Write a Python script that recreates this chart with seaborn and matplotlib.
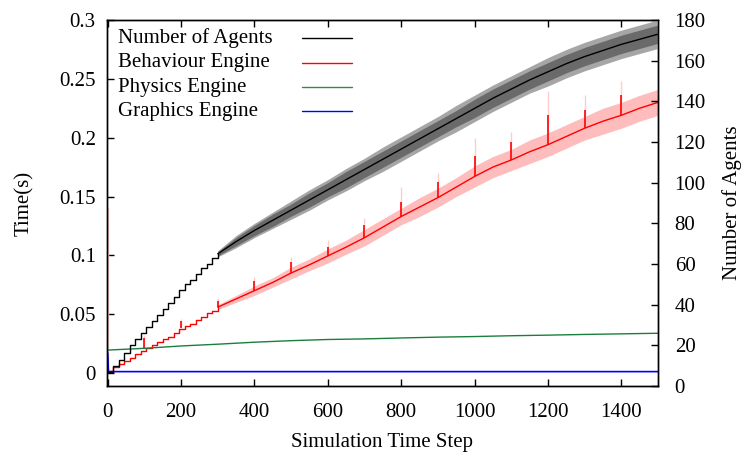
import numpy as np
import pandas as pd
import matplotlib
matplotlib.use("Agg")
import matplotlib.pyplot as plt
import seaborn as sns
from matplotlib.lines import Line2D

# early phase: agents are spawned in stairs (values read per stair)
stair_steps = [0, 15, 30, 45, 60, 75, 90, 105, 120, 135, 150, 165, 180, 195,
               210, 225, 240, 255, 270, 285, 300]
stair_agents = [7, 10, 13, 16, 20, 23, 26, 29, 32, 35, 38, 41, 44, 47,
                50, 52, 55, 58, 60, 63, 65]
stair_behaviour = [0.002, 0.005, 0.0075, 0.010, 0.013, 0.016, 0.019, 0.021, 0.024,
                   0.026, 0.029, 0.031, 0.034, 0.037, 0.040, 0.042, 0.045, 0.048,
                   0.051, 0.053, 0.056]

# later phase, mean and spread (read every 50 steps)
late_steps = [300, 350, 400, 450, 500, 550, 600, 650, 700, 750, 800, 850, 900,
              950, 1000, 1050, 1100, 1150, 1200, 1250, 1300, 1350, 1400, 1450, 1500]
late_agents = [65, 71, 76.5, 81.5, 86.5, 91.5, 96.5, 101.5, 106.5, 111.5, 116.5,
               121.5, 126.5, 131.5, 136.5, 141.5, 146, 150.5, 154.5, 158.5, 162,
               165, 168, 170.5, 173]
agents_inner = [1, 2, 2.5, 3, 3, 3.5, 3.5, 4, 4, 4, 4, 4, 4,
                4, 4.5, 4.5, 4.5, 4.5, 4.5, 4.5, 4.5, 4.5, 4.5, 4.5, 4.5]
agents_outer = [1.5, 3, 3.5, 4, 4.5, 5, 5, 5.5, 5.5, 6, 6, 6, 6,
                6.5, 6.5, 6.5, 6.5, 6.5, 7, 7, 7, 7, 7, 7, 7]
late_behaviour = [0.056, 0.063, 0.070, 0.077, 0.085, 0.092, 0.0995, 0.107, 0.115,
                  0.124, 0.133, 0.141, 0.149, 0.158, 0.167, 0.175, 0.181, 0.188,
                  0.194, 0.201, 0.208, 0.214, 0.219, 0.225, 0.230]
behaviour_spread = [0.002, 0.003, 0.004, 0.004, 0.005, 0.005, 0.006, 0.006, 0.007,
                    0.007, 0.007, 0.008, 0.008, 0.008, 0.009, 0.009, 0.009, 0.010,
                    0.010, 0.010, 0.010, 0.011, 0.011, 0.011, 0.011]

# behaviour engine spikes every 100 steps (peak of mean / peak of spread)
spike_steps = [100, 200, 300, 400, 500, 600, 700, 800, 900, 1000, 1100, 1200, 1300, 1400]
spike_peak = [0.030, 0.044, 0.061, 0.078, 0.094, 0.107, 0.126, 0.145, 0.162,
              0.184, 0.196, 0.219, 0.2235, 0.236]
spike_faint = [0.032, 0.046, 0.064, 0.082, 0.099, 0.113, 0.132, 0.158, 0.170,
               0.200, 0.205, 0.240, 0.236, 0.248]

physics_steps = [0, 100, 200, 300, 400, 500, 600, 700, 800, 900, 1000, 1100,
                 1200, 1300, 1400, 1500]
physics_time = [0.0195, 0.021, 0.023, 0.0245, 0.0262, 0.0275, 0.0285, 0.029,
                0.0298, 0.0305, 0.031, 0.0317, 0.0322, 0.0328, 0.0333, 0.0338]

graphics_steps = [0, 2, 100, 200, 300, 400, 500, 600, 700, 800, 900, 1000,
                  1100, 1200, 1300, 1400, 1500]
graphics_time = [0.017, 0.0012, 0.0012, 0.0012, 0.0012, 0.0012, 0.0012, 0.0012,
                 0.0012, 0.0012, 0.0012, 0.0012, 0.0012, 0.0012, 0.0012, 0.0012, 0.0012]

x_ticks = [0, 200, 400, 600, 800, 1000, 1200, 1400]
time_ticks = [0, 0.05, 0.1, 0.15, 0.2, 0.25, 0.3]
time_labels = ["0", "0.05", "0.1", "0.15", "0.2", "0.25", "0.3"]
agent_ticks = [0, 20, 40, 60, 80, 100, 120, 140, 160, 180]

RED = "#ff0000"
GREEN = "#1b7f3b"
BLUE = "#0000ff"

sns.set_theme(style="ticks")
plt.rcParams["font.family"] = ["Liberation Serif", "DejaVu Serif"]
plt.rcParams["text.color"] = "black"
plt.rcParams["axes.labelcolor"] = "black"
plt.rcParams["xtick.color"] = "black"
plt.rcParams["ytick.color"] = "black"

fig = plt.figure(figsize=(7.46, 4.57), dpi=100)
ax = fig.add_axes([0.1434, 0.1554, 0.7386, 0.8009])
ax2 = ax.twinx()

stairs = pd.DataFrame({"step": stair_steps, "agents": stair_agents,
                       "behaviour": stair_behaviour})
late = pd.DataFrame({"step": late_steps, "agents": late_agents,
                     "inner": agents_inner, "outer": agents_outer,
                     "behaviour": late_behaviour, "behaviour_sd": behaviour_spread})

# behaviour engine (left axis)
ax.fill_between(late["step"], late["behaviour"] - late["behaviour_sd"],
                late["behaviour"] + late["behaviour_sd"], color="#ffbcbc", lw=0)
all_steps = stair_steps + late_steps[1:]
all_beh = stair_behaviour + late_behaviour[1:]
base = np.interp(spike_steps, all_steps, all_beh)
ax.vlines(spike_steps, base, spike_faint, color="#ffcccc", lw=1.0)
ax.vlines([1], [0.002], [0.14], color="#ffcccc", lw=1.0)
sns.lineplot(data=stairs, x="step", y="behaviour", ax=ax, color=RED, lw=1.0,
             drawstyle="steps-post", estimator=None, sort=False)
sns.lineplot(data=late, x="step", y="behaviour", ax=ax, color=RED, lw=1.0,
             estimator=None)
ax.vlines(spike_steps, base, spike_peak, color=RED, lw=1.2)

sns.lineplot(x=physics_steps, y=physics_time, ax=ax, color=GREEN, lw=1.0,
             estimator=None)
sns.lineplot(x=graphics_steps, y=graphics_time, ax=ax, color=BLUE, lw=1.2,
             estimator=None, sort=False)

# number of agents (right axis)
ax2.fill_between(late["step"], late["agents"] - late["outer"],
                 late["agents"] + late["outer"], color="#a6a6a6", lw=0)
ax2.fill_between(late["step"], late["agents"] - late["inner"],
                 late["agents"] + late["inner"], color="#6a6a6a", lw=0)
sns.lineplot(data=stairs, x="step", y="agents", ax=ax2, color="black", lw=1.0,
             drawstyle="steps-post", estimator=None, sort=False)
sns.lineplot(data=late, x="step", y="agents", ax=ax2, color="black", lw=1.0,
             estimator=None)

ax.set_xlim(-2, 1500)
ax.set_ylim(-0.011, 0.3)
ax2.set_ylim(0, 180)
ax.set_xticks(x_ticks)
ax.set_yticks(time_ticks)
ax.set_yticklabels(time_labels)
ax2.set_yticks(agent_ticks)

ax.tick_params(axis="x", direction="in", length=5, width=1, top=True,
               labelsize=15, pad=12)
ax.tick_params(axis="y", direction="in", length=5, width=1, right=False,
               labelsize=15, pad=8)
ax2.tick_params(axis="y", direction="in", length=5, width=1, labelsize=15, pad=12)

ax.set_xlabel("Simulation Time Step", fontsize=15, labelpad=8)
ax.set_ylabel("Time(s)", fontsize=15, labelpad=18)
ax2.set_ylabel("Number of Agents", fontsize=15, labelpad=12)
for a in (ax, ax2):
    for s in a.spines.values():
        s.set_color("black")
        s.set_linewidth(1.0)

# gnuplot-style key: left aligned text, sample line on the right
key_labels = ["Number of Agents", "Behaviour Engine", "Physics Engine", "Graphics Engine"]
key_colors = ["black", RED, "#2e8b57", BLUE]
key_rows = [0.9495, 0.8831, 0.8161, 0.7500]
for lab, col, yk in zip(key_labels, key_colors, key_rows):
    ax2.text(0.020, yk, lab, transform=ax2.transAxes, fontsize=15,
             ha="left", va="center")
    ax2.add_line(Line2D([0.354, 0.4446], [yk, yk], transform=ax2.transAxes,
                        color=col, lw=1.0))

fig.savefig("out.png", dpi=100)
